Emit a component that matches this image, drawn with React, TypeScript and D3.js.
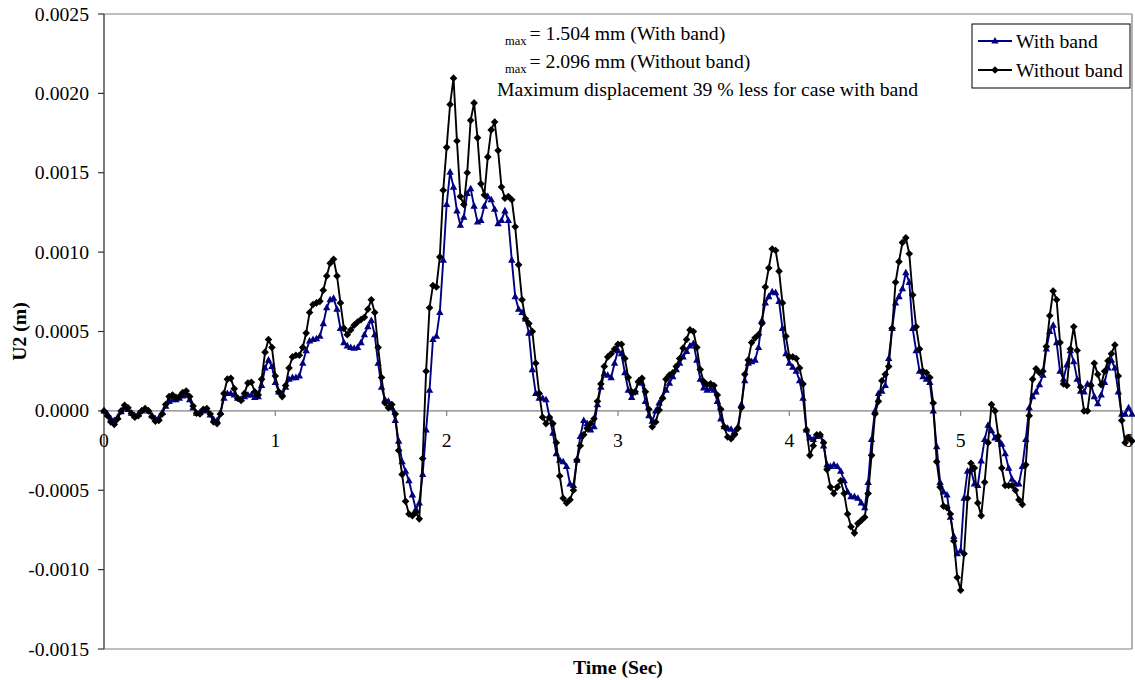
import React from "react";
import * as d3 from "d3";

// Sampling interval of the time-history records (s)
const TIME_STEP = 0.02;

// U2 displacement, in millimetres, sampled every 0.02 s from 0 to 6 s
const withBandMm: number[] = [
  0, -0.02, -0.05, -0.06, -0.04, -0.005, 0.02, 0.01, -0.015, -0.03,
  -0.02, 0.0, 0.01, 0.0, -0.03, -0.05, -0.045, -0.01, 0.03, 0.06,
  0.07, 0.07, 0.08, 0.095, 0.1, 0.07, 0.02, -0.015, -0.01, 0.0,
  0.005, -0.025, -0.055, -0.06, -0.01, 0.08, 0.11, 0.11, 0.1, 0.08,
  0.075, 0.09, 0.1, 0.1, 0.085, 0.09, 0.16, 0.27, 0.32, 0.28,
  0.18, 0.12, 0.11, 0.15, 0.2, 0.21, 0.21, 0.22, 0.3, 0.38,
  0.44, 0.45, 0.455, 0.47, 0.55, 0.65, 0.7, 0.71, 0.64, 0.52,
  0.43, 0.41, 0.4, 0.395, 0.4, 0.43, 0.48, 0.53, 0.57, 0.48,
  0.3, 0.15, 0.07, 0.06, 0.02, -0.06, -0.19, -0.32, -0.38, -0.44,
  -0.53, -0.62, -0.58, -0.4, -0.12, 0.13, 0.45, 0.47, 0.62, 0.95,
  1.3, 1.504, 1.41, 1.26, 1.17, 1.22, 1.37, 1.4, 1.29, 1.19,
  1.2, 1.29, 1.35, 1.33, 1.27, 1.18, 1.2, 1.26, 1.2, 0.95,
  0.72, 0.64, 0.62, 0.58, 0.49, 0.26, 0.11, 0.08, 0.08, 0.07,
  -0.04, -0.14, -0.27, -0.31, -0.32, -0.35, -0.46, -0.47, -0.31, -0.16,
  -0.06, -0.08, -0.12, -0.1, 0.04, 0.15, 0.235, 0.225, 0.21, 0.3,
  0.38, 0.36, 0.24, 0.13, 0.085, 0.12, 0.19, 0.175, 0.06, -0.03,
  -0.065, 0.0, 0.05, 0.09, 0.13, 0.175, 0.215, 0.26, 0.3, 0.34,
  0.375, 0.41, 0.425, 0.32, 0.2, 0.145, 0.13, 0.14, 0.13, 0.06,
  -0.05, -0.1, -0.11, -0.115, -0.13, -0.1, 0.04, 0.19, 0.3, 0.31,
  0.32, 0.4, 0.57, 0.68, 0.72, 0.75, 0.745, 0.69, 0.52, 0.36,
  0.3, 0.275, 0.25, 0.19, 0.08, -0.12, -0.17, -0.18, -0.16, -0.15,
  -0.22, -0.34, -0.35, -0.34, -0.35, -0.38, -0.44, -0.51, -0.54, -0.54,
  -0.55, -0.58, -0.61, -0.45, -0.18, 0.0, 0.11, 0.124, 0.16, 0.33,
  0.52, 0.68, 0.72, 0.77, 0.87, 0.81, 0.52, 0.38, 0.25, 0.215,
  0.2, 0.18, 0.0, -0.225, -0.45, -0.51, -0.53, -0.67, -0.79, -0.9,
  -0.88, -0.55, -0.38, -0.37, -0.46, -0.47, -0.315, -0.18, -0.09, -0.125,
  -0.17, -0.18, -0.21, -0.27, -0.36, -0.43, -0.46, -0.46, -0.35, -0.18,
  0.02, 0.09, 0.12, 0.165, 0.225, 0.39, 0.5, 0.54, 0.43, 0.25,
  0.2, 0.29, 0.38, 0.31, 0.2, 0.124, 0.12, 0.17, 0.17, 0.09,
  0.045, 0.1, 0.18, 0.27, 0.32, 0.27, 0.12, -0.02, -0.02, 0.02,
  -0.02,
];

const withoutBandMm: number[] = [
  0, -0.03, -0.07, -0.085, -0.05, 0.0, 0.035, 0.02, -0.015, -0.04,
  -0.03, 0.0, 0.015, 0.0, -0.035, -0.065, -0.06, -0.02, 0.04, 0.09,
  0.1, 0.085, 0.09, 0.115, 0.125, 0.09, 0.03, -0.015, -0.02, 0.01,
  0.015, -0.02, -0.07, -0.08, -0.02, 0.11, 0.2, 0.205, 0.14, 0.08,
  0.065, 0.11, 0.175, 0.18, 0.12, 0.1, 0.2, 0.37, 0.45, 0.4,
  0.22, 0.12, 0.09, 0.16, 0.27, 0.34, 0.35, 0.35, 0.4, 0.49,
  0.62, 0.67, 0.68, 0.69, 0.76, 0.85, 0.93, 0.955, 0.85, 0.68,
  0.52, 0.48, 0.51, 0.54, 0.56, 0.575, 0.59, 0.64, 0.7, 0.62,
  0.4, 0.21, 0.05, 0.02, 0.04, -0.02, -0.25, -0.4, -0.57, -0.65,
  -0.66, -0.64, -0.68, -0.3, 0.25, 0.65, 0.79, 0.78, 0.97, 1.39,
  1.66, 1.93, 2.096, 1.7, 1.35, 1.3, 1.5, 1.83, 1.94, 1.72,
  1.43, 1.36, 1.6, 1.77, 1.82, 1.64, 1.41, 1.34, 1.35, 1.33,
  1.16, 0.92, 0.7, 0.58, 0.55, 0.5, 0.3, 0.11, -0.04, -0.08,
  -0.04, -0.08, -0.2, -0.41, -0.55, -0.58, -0.56, -0.5, -0.31, -0.22,
  -0.15, -0.11, -0.08, -0.05, 0.06, 0.17, 0.28, 0.34, 0.36, 0.39,
  0.42, 0.42, 0.33, 0.21, 0.12, 0.12, 0.185, 0.205, 0.12, 0.01,
  -0.1, -0.07, 0.005, 0.08, 0.2, 0.225, 0.24, 0.28, 0.33, 0.395,
  0.45, 0.51, 0.5, 0.4, 0.26, 0.185, 0.165, 0.17, 0.16, 0.1,
  0.01, -0.1, -0.165, -0.175, -0.15, -0.11, 0.02, 0.23, 0.32, 0.43,
  0.46, 0.48, 0.55, 0.78, 0.9, 1.02, 1.01, 0.88, 0.68, 0.47,
  0.34, 0.34, 0.33, 0.27, 0.17, -0.12, -0.28, -0.22, -0.15, -0.15,
  -0.2, -0.37, -0.48, -0.52, -0.48, -0.44, -0.52, -0.65, -0.73, -0.77,
  -0.71, -0.69, -0.67, -0.52, -0.28, -0.02, 0.06, 0.19, 0.23, 0.28,
  0.52, 0.81, 0.94, 1.06, 1.09, 0.99, 0.73, 0.53, 0.39, 0.25,
  0.24, 0.21, 0.05, -0.32, -0.48, -0.6, -0.61, -0.65, -0.82, -1.05,
  -1.13, -0.9, -0.55, -0.33, -0.36, -0.58, -0.66, -0.45, -0.2, 0.04,
  0.0, -0.16, -0.36, -0.47, -0.47, -0.47, -0.5, -0.56, -0.59, -0.34,
  -0.03, 0.2, 0.265, 0.24, 0.25, 0.405, 0.6, 0.755, 0.7, 0.43,
  0.17, 0.16, 0.39, 0.53, 0.38, 0.15, 0.0, 0.0, 0.16, 0.3,
  0.23, 0.165, 0.25, 0.315, 0.36, 0.415, 0.22, -0.06, -0.2, -0.17,
  -0.19,
];

const yTicks: number[] = [-0.0015, -0.001, -0.0005, 0, 0.0005, 0.001, 0.0015, 0.002, 0.0025];
const xTicks: number[] = [0, 1, 2, 3, 4, 5, 6];

const seriesNames = ["With band", "Without band"];
const notes = [
  { sub: "max", text: "= 1.504 mm (With band)" },
  { sub: "max", text: "= 2.096 mm (Without band)" },
];
const summary = "Maximum displacement 39 % less for case with band";

const W = 1135;
const H = 680;
const plot = { left: 104, right: 1132, top: 14, bottom: 649 };
const FONT = "'Liberation Serif', 'Times New Roman', serif";
const BLUE = "#000080";
const BLACK = "#000000";
const GRAY = "#808080";

const x = d3.scaleLinear().domain([0, 6]).range([plot.left, plot.right]);
const y = d3.scaleLinear().domain([-0.0015, 0.0025]).range([plot.bottom, plot.top]);

const triangle = "M0,-4L3.7,2.6L-3.7,2.6Z";
const diamond = "M0,-3.8L3.8,0L0,3.8L-3.8,0Z";

type Pt = { t: number; v: number };
const toPoints = (mm: number[]): Pt[] =>
  mm.map((v, i) => ({ t: i * TIME_STEP, v: v / 1000 }));

const withBand = toPoints(withBandMm);
const withoutBand = toPoints(withoutBandMm);

const line = d3
  .line<Pt>()
  .x((d) => x(d.t))
  .y((d) => y(d.v));

const fmt = (v: number) => d3.format(".4f")(v).replace("\u2212", "-");

export default function App() {
  const y0 = y(0);
  const series = [
    { name: seriesNames[0], data: withBand, color: BLUE, marker: triangle },
    { name: seriesNames[1], data: withoutBand, color: BLACK, marker: diamond },
  ];
  return (
    <svg
      width={W}
      height={H}
      style={{ position: "absolute", left: 0, top: 0, background: "#fff" }}
      fontFamily={FONT}
    >
      <rect x={0} y={0} width={W} height={H} fill="#fff" />
      {/* plot area frame */}
      <line x1={plot.left} x2={plot.right} y1={plot.top} y2={plot.top} stroke={GRAY} strokeWidth={1.2} />
      <line x1={plot.right} x2={plot.right} y1={plot.top} y2={plot.bottom} stroke={GRAY} strokeWidth={1.2} />
      <line x1={plot.left} x2={plot.right} y1={plot.bottom} y2={plot.bottom} stroke={GRAY} strokeWidth={1.2} />

      {/* y axis */}
      <line x1={plot.left} x2={plot.left} y1={plot.top} y2={plot.bottom} stroke="#333" strokeWidth={1.3} />
      {yTicks.map((t) => (
        <g key={t}>
          <line x1={plot.left - 6} x2={plot.left} y1={y(t)} y2={y(t)} stroke="#333" strokeWidth={1.2} />
          <text x={plot.left - 15} y={y(t)} dy="0.33em" textAnchor="end" fontSize={19.7} fill="#000">
            {fmt(t)}
          </text>
        </g>
      ))}

      {/* x axis at zero */}
      <line x1={plot.left} x2={plot.right} y1={y0} y2={y0} stroke={GRAY} strokeWidth={1.2} />
      {xTicks.map((t) => (
        <g key={t}>
          <line x1={x(t)} x2={x(t)} y1={y0} y2={y0 + 5} stroke={GRAY} strokeWidth={1.2} />
          <text
            x={Math.min(x(t), W - 7)}
            y={y0 + 36}
            textAnchor="middle"
            fontSize={19.7}
            fill="#000"
          >
            {t}
          </text>
        </g>
      ))}

      {/* series */}
      {series.map((s) => (
        <g key={s.name}>
          <path d={line(s.data) ?? ""} fill="none" stroke={s.color} strokeWidth={1.9} />
          {s.data.map((d, i) => (
            <path key={i} d={s.marker} transform={`translate(${x(d.t)},${y(d.v)})`} fill={s.color} />
          ))}
        </g>
      ))}

      {/* annotations */}
      {notes.map((n, i) => (
        <text key={i} x={505} y={40 + i * 28} fontSize={19.7} fill="#000">
          <tspan fontSize={12.5} dy={5}>{n.sub}</tspan>
          <tspan dy={-5} dx={3}>{n.text}</tspan>
        </text>
      ))}
      <text x={497} y={96} fontSize={19.7} fill="#000">
        {summary}
      </text>

      {/* legend */}
      <rect x={972} y={24} width={158} height={64} fill="#fff" stroke="#000" strokeWidth={1} />
      {series.map((s, i) => {
        const ly = 41 + i * 29;
        return (
          <g key={s.name}>
            <line x1={978} x2={1012} y1={ly} y2={ly} stroke={s.color} strokeWidth={1.9} />
            <path d={s.marker} transform={`translate(995,${ly})`} fill={s.color} />
            <text x={1016} y={ly} dy="0.33em" fontSize={19.7} fill="#000">
              {s.name}
            </text>
          </g>
        );
      })}

      {/* axis titles */}
      <text
        transform={`translate(26,${(plot.top + plot.bottom) / 2}) rotate(-90)`}
        textAnchor="middle"
        fontSize={19.7}
        fontWeight="bold"
        fill="#000"
      >
        U2 (m)
      </text>
      <text x={(plot.left + plot.right) / 2} y={674} textAnchor="middle" fontSize={19.7} fontWeight="bold" fill="#000">
        Time (Sec)
      </text>
    </svg>
  );
}
